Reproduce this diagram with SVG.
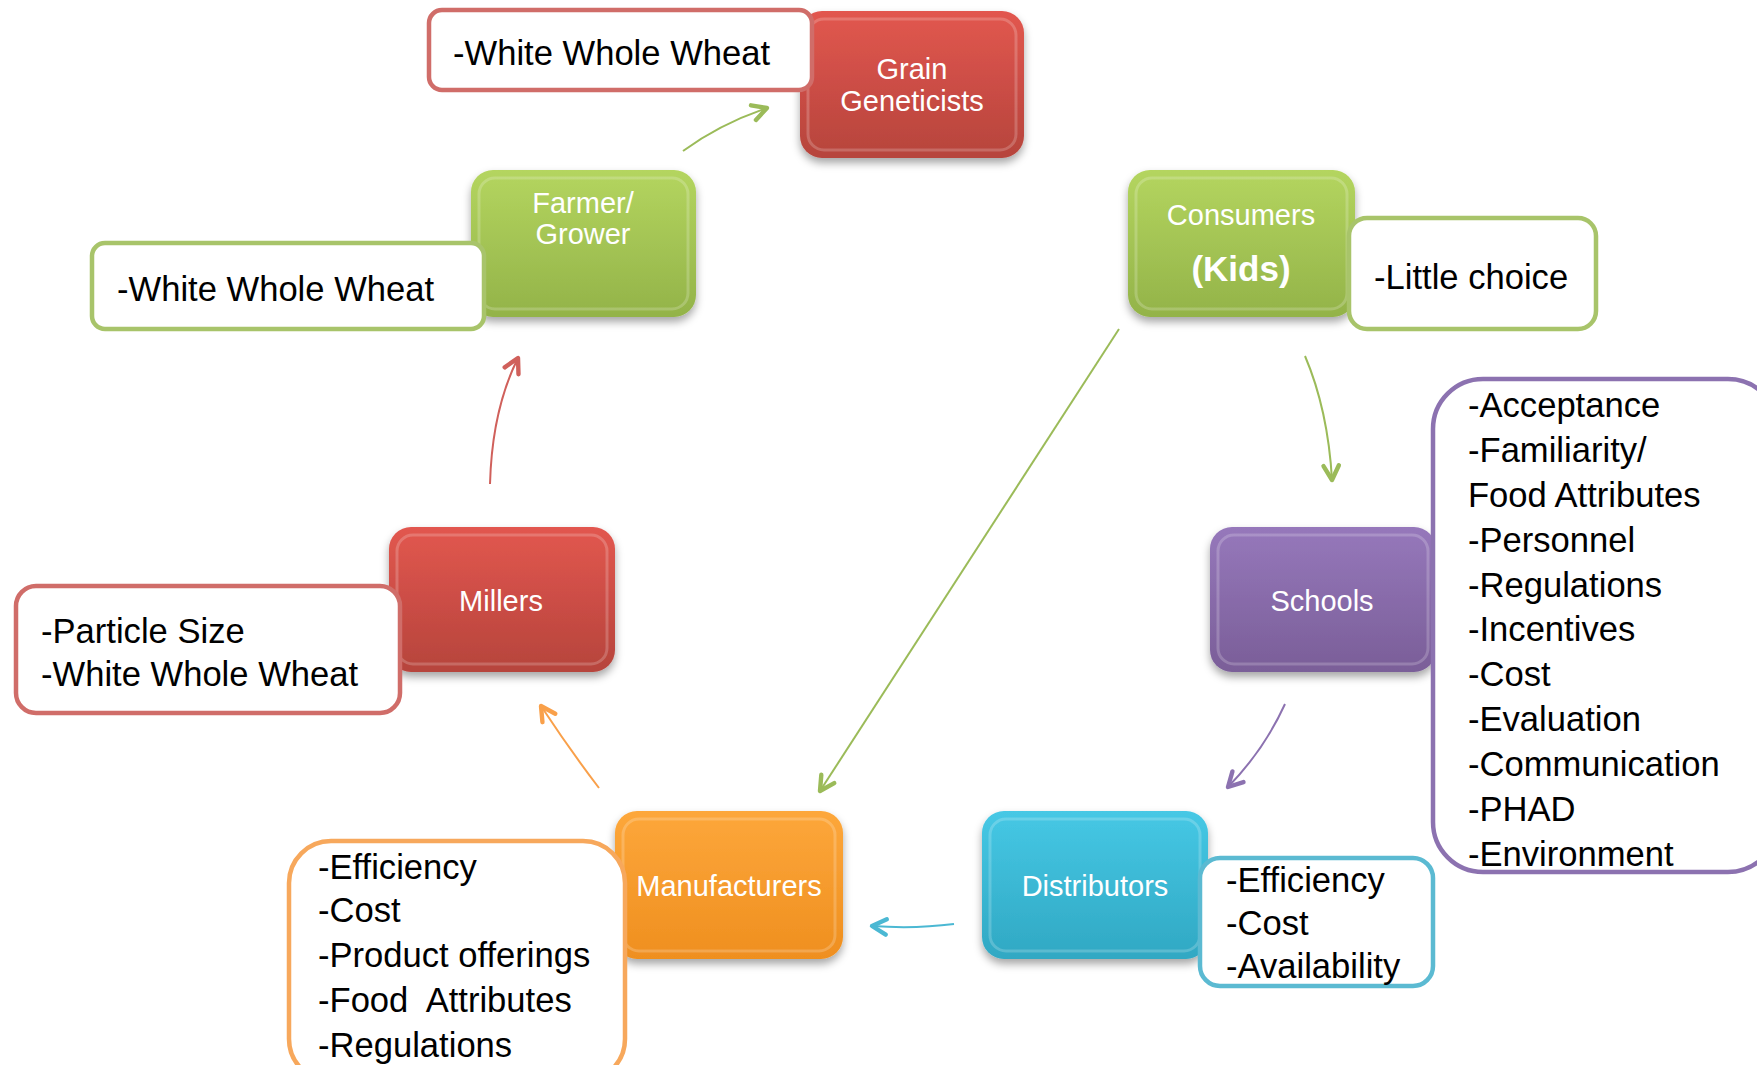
<svg xmlns="http://www.w3.org/2000/svg" width="1757" height="1065" viewBox="0 0 1757 1065">
<style>
.nt{font-family:"Liberation Sans",Arial,sans-serif;font-size:29px;fill:#ffffff;text-anchor:middle}
.lt{font-family:"Liberation Sans",Arial,sans-serif;font-size:34.6px;fill:#000000}
.lb{fill:#ffffff;stroke-width:4.5}
.hl{fill:none;stroke:#ffffff;stroke-opacity:0.2;stroke-width:3}
.cn{fill:none;stroke-width:2}
</style>
<defs>
<linearGradient id="gRed" x1="0" y1="0" x2="0" y2="1"><stop offset="0" stop-color="#e2574f"/><stop offset="1" stop-color="#b6443c"/></linearGradient>
<linearGradient id="gGreen" x1="0" y1="0" x2="0" y2="1"><stop offset="0" stop-color="#b4d55f"/><stop offset="1" stop-color="#93b349"/></linearGradient>
<linearGradient id="gPurple" x1="0" y1="0" x2="0" y2="1"><stop offset="0" stop-color="#9678bb"/><stop offset="1" stop-color="#7a5e98"/></linearGradient>
<linearGradient id="gCyan" x1="0" y1="0" x2="0" y2="1"><stop offset="0" stop-color="#46c8e5"/><stop offset="1" stop-color="#30a8c3"/></linearGradient>
<linearGradient id="gOrange" x1="0" y1="0" x2="0" y2="1"><stop offset="0" stop-color="#fda73b"/><stop offset="1" stop-color="#ef8f1f"/></linearGradient>
<filter id="sh" x="-10%" y="-10%" width="125%" height="130%"><feDropShadow dx="0" dy="5" stdDeviation="4" flood-color="#000000" flood-opacity="0.35"/></filter>
<marker id="aGreen" viewBox="0 0 20 20" refX="17" refY="10" markerWidth="22" markerHeight="22" markerUnits="userSpaceOnUse" orient="auto"><path d="M4,3 L17,10 L4,17" fill="none" stroke="#9bbb59" stroke-width="4" stroke-linecap="round" stroke-linejoin="round"/></marker>
<marker id="aRed" viewBox="0 0 20 20" refX="17" refY="10" markerWidth="22" markerHeight="22" markerUnits="userSpaceOnUse" orient="auto"><path d="M4,3 L17,10 L4,17" fill="none" stroke="#d0605b" stroke-width="4" stroke-linecap="round" stroke-linejoin="round"/></marker>
<marker id="aOrange" viewBox="0 0 20 20" refX="17" refY="10" markerWidth="22" markerHeight="22" markerUnits="userSpaceOnUse" orient="auto"><path d="M4,3 L17,10 L4,17" fill="none" stroke="#f9a04a" stroke-width="4" stroke-linecap="round" stroke-linejoin="round"/></marker>
<marker id="aPurple" viewBox="0 0 20 20" refX="17" refY="10" markerWidth="22" markerHeight="22" markerUnits="userSpaceOnUse" orient="auto"><path d="M4,3 L17,10 L4,17" fill="none" stroke="#8c72b0" stroke-width="4" stroke-linecap="round" stroke-linejoin="round"/></marker>
<marker id="aCyan" viewBox="0 0 20 20" refX="17" refY="10" markerWidth="22" markerHeight="22" markerUnits="userSpaceOnUse" orient="auto"><path d="M4,3 L17,10 L4,17" fill="none" stroke="#4bb8d3" stroke-width="4" stroke-linecap="round" stroke-linejoin="round"/></marker>
</defs>
<rect width="1757" height="1065" fill="#ffffff"/>

<g id="connectors">
<path class="cn" d="M683,151 Q720,124 767,108" stroke="#9bbb59" marker-end="url(#aGreen)"/>
<path class="cn" d="M1305,356 Q1328,410 1332,480" stroke="#9bbb59" marker-end="url(#aGreen)"/>
<path class="cn" d="M1119,329 L820,791" stroke="#9bbb59" stroke-width="1.6" marker-end="url(#aGreen)"/>
<path class="cn" d="M1285,704 Q1264,750 1228,787" stroke="#8c72b0" marker-end="url(#aPurple)"/>
<path class="cn" d="M954,924 Q915,929 872,926" stroke="#4bb8d3" marker-end="url(#aCyan)"/>
<path class="cn" d="M599,788 Q570,750 541,706" stroke="#f9a04a" marker-end="url(#aOrange)"/>
<path class="cn" d="M490,484 Q492,410 518,358" stroke="#d0605b" marker-end="url(#aRed)"/>
</g>

<g id="grain-geneticists">
<rect x="800" y="11" width="224" height="147" rx="22" fill="url(#gRed)" filter="url(#sh)"/>
<rect x="808" y="19" width="208" height="131" rx="16" class="hl"/>
<text class="nt" x="912" y="79">Grain</text>
<text class="nt" x="912" y="111">Geneticists</text>
<rect class="lb" x="429" y="10" width="383" height="80" rx="13" stroke="#d06d69"/>
<text class="lt" x="453" y="65">-White Whole Wheat</text>
</g>

<g id="farmer-grower">
<rect x="471" y="170" width="225" height="147" rx="22" fill="url(#gGreen)" filter="url(#sh)"/>
<rect x="479" y="178" width="209" height="131" rx="16" class="hl"/>
<text class="nt" x="583" y="213">Farmer/</text>
<text class="nt" x="583" y="244">Grower</text>
<rect class="lb" x="92" y="243" width="392" height="86" rx="13" stroke="#a8c46a"/>
<text class="lt" x="117" y="301">-White Whole Wheat</text>
</g>

<g id="consumers">
<rect x="1128" y="170" width="227" height="147" rx="22" fill="url(#gGreen)" filter="url(#sh)"/>
<rect x="1136" y="178" width="211" height="131" rx="16" class="hl"/>
<text class="nt" x="1241" y="225">Consumers</text>
<text class="nt" x="1241" y="281" style="font-weight:bold;font-size:35px">(Kids)</text>
<rect class="lb" x="1349" y="218" width="247" height="111" rx="18" stroke="#a8c46a"/>
<text class="lt" x="1374" y="289">-Little choice</text>
</g>

<g id="schools">
<rect x="1210" y="527" width="226" height="145" rx="22" fill="url(#gPurple)" filter="url(#sh)"/>
<rect x="1218" y="535" width="210" height="129" rx="16" class="hl"/>
<text class="nt" x="1322" y="611">Schools</text>
<rect class="lb" x="1433" y="379" width="345" height="493" rx="50" stroke="#8c72b0"/>
<text class="lt" x="1468" y="417">-Acceptance</text>
<text class="lt" x="1468" y="462">-Familiarity/</text>
<text class="lt" x="1468" y="507">Food Attributes</text>
<text class="lt" x="1468" y="552">-Personnel</text>
<text class="lt" x="1468" y="597">-Regulations</text>
<text class="lt" x="1468" y="641">-Incentives</text>
<text class="lt" x="1468" y="686">-Cost</text>
<text class="lt" x="1468" y="731">-Evaluation</text>
<text class="lt" x="1468" y="776">-Communication</text>
<text class="lt" x="1468" y="821">-PHAD</text>
<text class="lt" x="1468" y="866">-Environment</text>
</g>

<g id="distributors">
<rect x="982" y="811" width="226" height="148" rx="22" fill="url(#gCyan)" filter="url(#sh)"/>
<rect x="990" y="819" width="210" height="132" rx="16" class="hl"/>
<text class="nt" x="1095" y="896">Distributors</text>
<rect class="lb" x="1200" y="858" width="233" height="128" rx="20" stroke="#5bbad2"/>
<text class="lt" x="1226" y="892">-Efficiency</text>
<text class="lt" x="1226" y="935">-Cost</text>
<text class="lt" x="1226" y="978">-Availability</text>
</g>

<g id="manufacturers">
<rect x="615" y="811" width="228" height="148" rx="22" fill="url(#gOrange)" filter="url(#sh)"/>
<rect x="623" y="819" width="212" height="132" rx="16" class="hl"/>
<rect class="lb" x="289" y="841" width="336" height="240" rx="42" stroke="#f7a85c"/>
<text class="nt" x="729" y="896">Manufacturers</text>
<text class="lt" x="318" y="879">-Efficiency</text>
<text class="lt" x="318" y="922">-Cost</text>
<text class="lt" x="318" y="967">-Product offerings</text>
<text class="lt" x="318" y="1012" xml:space="preserve">-Food  Attributes</text>
<text class="lt" x="318" y="1057">-Regulations</text>
</g>

<g id="millers">
<rect x="389" y="527" width="226" height="145" rx="22" fill="url(#gRed)" filter="url(#sh)"/>
<rect x="397" y="535" width="210" height="129" rx="16" class="hl"/>
<text class="nt" x="501" y="611">Millers</text>
<rect class="lb" x="16" y="586" width="384" height="127" rx="20" stroke="#d06d69"/>
<text class="lt" x="41" y="643">-Particle Size</text>
<text class="lt" x="41" y="686">-White Whole Wheat</text>
</g>
</svg>
